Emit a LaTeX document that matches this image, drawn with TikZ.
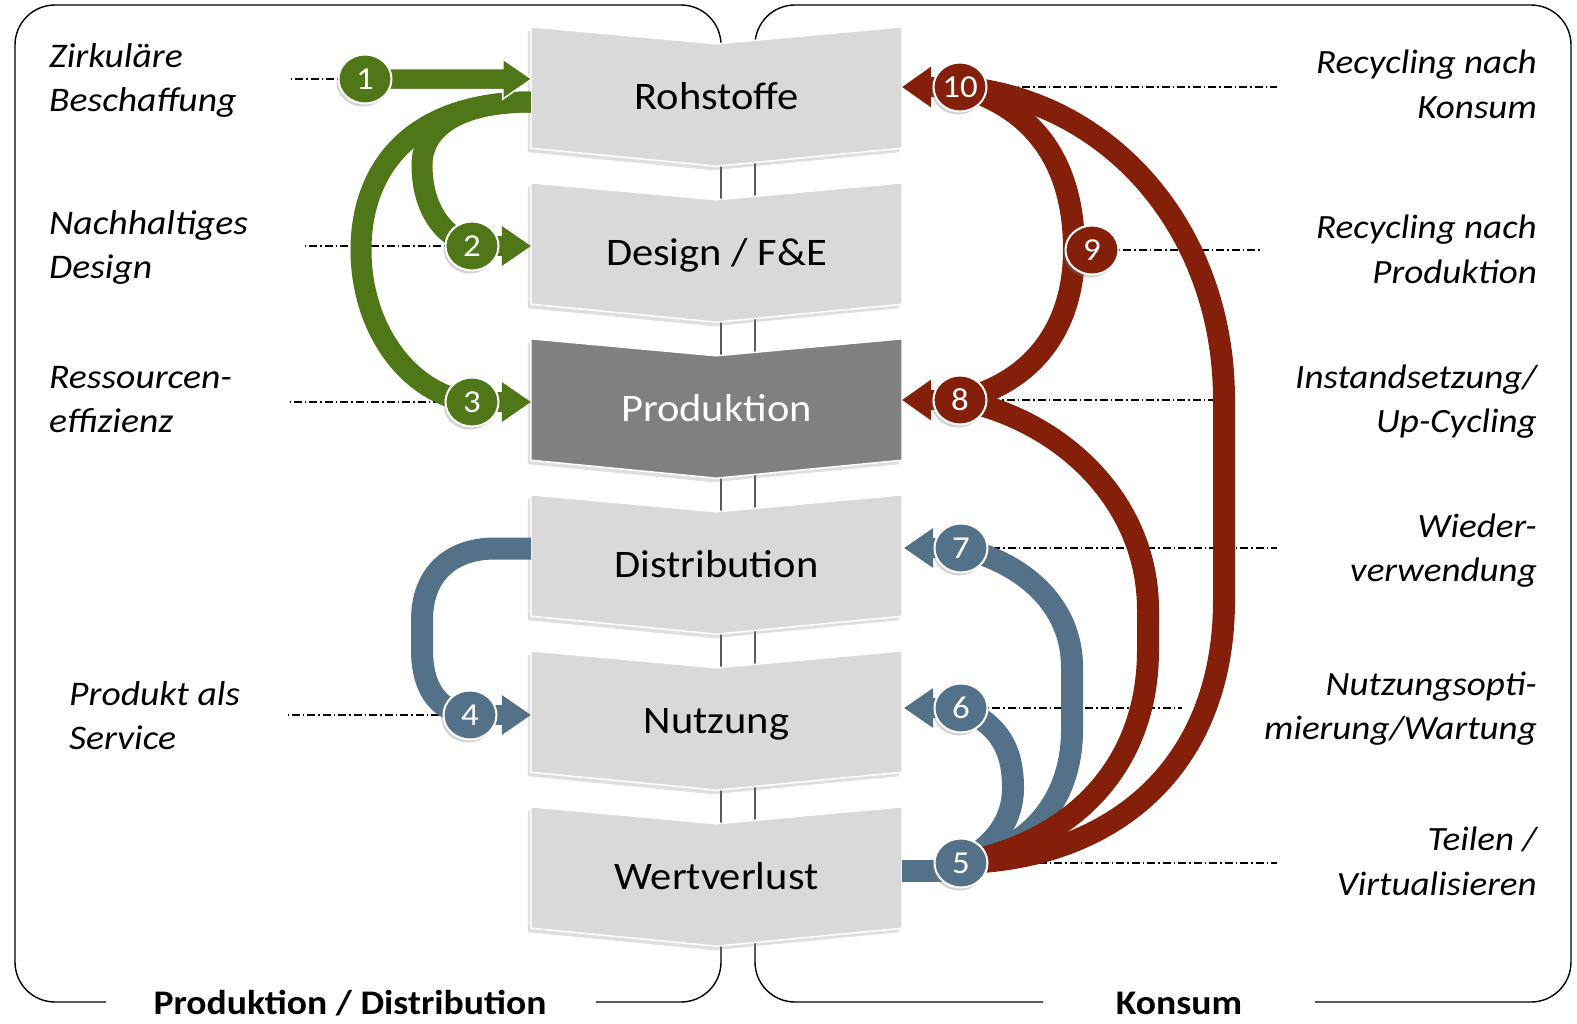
\documentclass[tikz,border=0pt]{standalone}
\usepackage{fontspec}
\setmainfont{Carlito}[FakeStretch=1.09]
\usetikzlibrary{shapes.geometric,shadows,calc}
\definecolor{grn}{RGB}{79,119,23}
\definecolor{rdd}{RGB}{132,31,10}
\definecolor{blu}{RGB}{83,114,137}
\definecolor{chevl}{RGB}{217,217,217}
\definecolor{chevd}{RGB}{128,128,128}
\pgfdeclarelayer{frame}
\pgfdeclarelayer{leader}
\pgfdeclarelayer{chev}
\pgfdeclarelayer{bands}
\pgfsetlayers{frame,leader,chev,bands,main}
\begin{document}
\begin{tikzpicture}[x=1pt,y=-1pt,
  chevtext/.style={minimum width=371pt, minimum height=121pt, inner sep=0pt,
    text height=50pt, text depth=7pt, font=\fontsize{39}{46}\selectfont},
  chevshape/.style={draw=white, line width=1.5pt,
    drop shadow={shadow xshift=-3pt, shadow yshift=-4pt, opacity=0.25}},
  cnum/.style={ellipse, minimum width=53pt, minimum height=49pt, inner sep=0pt,
    draw=white, line width=2pt, text=white, font=\fontsize{32}{32}\selectfont,
    drop shadow={shadow xshift=-2pt, shadow yshift=-3pt, opacity=0.35}},
  framel/.style={draw=black, line width=1.4pt},
  dd/.style={draw=black, line width=1.3pt, dash pattern=on 8pt off 3pt on 1.5pt off 3pt},
  gband/.style={draw=grn, line width=21pt},
  bband/.style={draw=blu, line width=22pt},
  rband/.style={draw=rdd, line width=22pt},
  labl/.style={inner sep=0pt, anchor=base west, font=\fontsize{34.5}{44}\selectfont\itshape},
  labr/.style={inner sep=0pt, anchor=base east, font=\fontsize{34}{44}\selectfont\itshape},
  ttl/.style={inner sep=0pt, anchor=base, font=\fontsize{34.5}{40}\selectfont\bfseries}
]
\useasboundingbox (0,0) rectangle (1577,1023);

% ---------- chevron nodes (text) ----------
\node[chevtext] (roh) at (716.5,87.5) {Rohstoffe};
\node[chevtext] (des) at (716.5,243.5) {Design / F\&E};
\node[chevtext, text=white] (pro) at (716.5,399.5) {Produktion};
\node[chevtext] (dis) at (716.5,555.5) {Distribution};
\node[chevtext] (nut) at (716.5,711.5) {Nutzung};
\node[chevtext] (wer) at (716.5,867.5) {Wertverlust};

% ---------- numbered circles ----------
\node[cnum, fill=grn] (c1) at (365,79) {1};
\node[cnum, fill=grn] (c2) at (472,246) {2};
\node[cnum, fill=grn] (c3) at (472,402) {3};
\node[cnum, fill=blu] (c4) at (470,715) {4};
\node[cnum, fill=blu] (c5) at (961,863) {5};
\node[cnum, fill=blu] (c6) at (961,708) {6};
\node[cnum, fill=blu] (c7) at (961,548) {7};
\node[cnum, fill=rdd] (c8) at (960,400) {8};
\node[cnum, fill=rdd] (c9) at (1092,250) {9};
\node[cnum, fill=rdd] (c10) at (960,87) {10};

% ---------- side labels ----------
\node[labl] (l1a) at (49,67) {Zirkuläre};
\node[labl] (l1b) at (49,111) {Beschaffung};
\node[labl] (l2a) at (49,234) {Nachhaltiges};
\node[labl] (l2b) at (49,278) {Design};
\node[labl] (l3a) at (49,388) {Ressourcen-};
\node[labl] (l3b) at (49,432) {effizienz};
\node[labl] (l4a) at (69,705) {Produkt als};
\node[labl] (l4b) at (69,749) {Service};

\node[labr] (r10a) at (1537,73) {Recycling nach};
\node[labr] (r10b) at (1537,118) {Konsum};
\node[labr] (r9a) at (1537,238) {Recycling nach};
\node[labr] (r9b) at (1537,283) {Produktion};
\node[labr] (r8a) at (1537,388) {Instandsetzung/};
\node[labr] (r8b) at (1537,432) {Up-Cycling};
\node[labr] (r7a) at (1537,537) {Wieder-};
\node[labr] (r7b) at (1537,581) {verwendung};
\node[labr] (r6a) at (1537,695) {Nutzungsopti-};
\node[labr] (r6b) at (1537,739) {mierung/Wartung};
\node[labr] (r5a) at (1537,850) {Teilen /};
\node[labr] (r5b) at (1537,895) {Virtualisieren};

\node[ttl] (tl) at (350,1014) {Produktion / Distribution};
\node[ttl] (tr) at (1179,1014) {Konsum};

% ---------- frames ----------
\begin{pgfonlayer}{frame}
\draw[framel, rounded corners=40pt] (106,1002) -- (15,1002) -- (15,5) -- (721,5) -- (721,1002) -- (596,1002);
\draw[framel, rounded corners=40pt] (1043,1002) -- (755,1002) -- (755,5) -- (1571,5) -- (1571,1002) -- (1315,1002);
\end{pgfonlayer}

% ---------- leader lines ----------
\coordinate (d1) at (290,0);
\coordinate (d2) at (302,0);
\coordinate (d3) at (290,0);
\coordinate (d4) at (288,0);
\coordinate (d5) at (1277,0);
\coordinate (d6) at (1182,0);
\coordinate (d7) at (1277,0);
\coordinate (d8) at (1217,0);
\coordinate (d9) at (1262,0);
\coordinate (d10) at (1277,0);
\begin{pgfonlayer}{leader}
\foreach \i in {1,...,10}
  \draw[dd] (c\i.center) -- (c\i.center -| d\i);
\end{pgfonlayer}

% ---------- chevron shapes ----------
\begin{pgfonlayer}{chev}
\foreach \n/\c in {roh/chevl, des/chevl, pro/chevd, dis/chevl, nut/chevl, wer/chevl}
  \filldraw[fill=\c, chevshape] (\n.north west) -- ([yshift=-17pt]\n.north) -- (\n.north east)
    -- (\n.south east) -- ([yshift=-18pt]\n.south) -- (\n.south west) -- cycle;
\end{pgfonlayer}

% ---------- bands and arrowheads ----------
\begin{pgfonlayer}{bands}
% blue
\draw[bband] ($(dis.west)+(0,-7)$) -- (495,548.5) .. controls (450,548.5) and (422,575) .. (422,620)
  -- (422,650) .. controls (422,690) and (440,712) .. (c4.center);
\draw[bband] ($(c5.center -| wer.east)+(0,8)$) -- ($(c5.center)+(0,8)$);
\draw[bband] (c5.center) .. controls (1030,850) and (1072,800) .. (1072,730) -- (1072,667)
  .. controls (1072,610) and (1030,565) .. (c7.center);
\draw[bband] (c5.center) .. controls (995,845) and (1013,820) .. (1013,788)
  .. controls (1013,750) and (1000,725) .. (c6.center);
\draw[line width=20pt, blu] (c4.center) -- ($(c4 -| nut.west)+(-27,0)$);
\fill[blu] (c4 -| nut.west) -- ++(-29,-20) -- ++(0,40) -- cycle;
\draw[line width=20pt, blu] (c7.center) -- ($(c7 -| dis.east)+(27,0)$);
\fill[blu] ($(c7 -| dis.east)+(2,0)$) -- ++(29,-20) -- ++(0,40) -- cycle;
\draw[line width=20pt, blu] (c6.center) -- ($(c6 -| nut.east)+(27,0)$);
\fill[blu] ($(c6 -| nut.east)+(2,0)$) -- ++(29,-20) -- ++(0,40) -- cycle;
% red
\draw[rband] (c5.center) .. controls (1110,860) and (1224,770) .. (1224,600) -- (1224,400)
  .. controls (1224,230) and (1110,100) .. (c10.center);
\draw[rband] (c5.center) .. controls (1080,840) and (1148,760) .. (1148,650) -- (1148,610)
  .. controls (1148,500) and (1060,420) .. (c8.center);
\draw[rband] (c8.center) .. controls (1040,380) and (1074,320) .. (1074,250)
  .. controls (1074,170) and (1040,110) .. (c10.center);
\draw[line width=20pt, rdd] (c10.center) -- ($(c10 -| roh.east)+(27,0)$);
\fill[rdd] (c10 -| roh.east) -- ++(29,-20.5) -- ++(0,41) -- cycle;
\draw[line width=20pt, rdd] (c8.center) -- ($(c8 -| pro.east)+(27,0)$);
\fill[rdd] (c8 -| pro.east) -- ++(29,-20.5) -- ++(0,41) -- cycle;
% green
\draw[gband] ($(roh.west)+(0,14.5)$) .. controls (455,102) and (422,130) .. (422,165)
  .. controls (422,205) and (440,235) .. (c2.center);
\draw[gband] ($(roh.west)+(0,14.5)$) .. controls (410,102) and (361,170) .. (361,250)
  .. controls (361,330) and (410,395) .. (c3.center);
\draw[line width=20pt, grn] (c2.center) -- ($(c2 -| des.west)+(-27,0)$);
\fill[grn] (c2 -| des.west) -- ++(-29,-20) -- ++(0,40) -- cycle;
\draw[line width=20pt, grn] (c3.center) -- ($(c3 -| pro.west)+(-27,0)$);
\fill[grn] (c3 -| pro.west) -- ++(-29,-20) -- ++(0,40) -- cycle;
\coordinate (t1) at ($(c1 -| roh.west)+(1,0)$);
\filldraw[fill=grn, draw=white, line width=1.5pt] (c1.center) -- ++(0,-10.5)
  -- ($(t1)+(-29,-10.5)$) -- ++(0,-9.5) -- (t1) -- ++(-29,20) -- ++(0,-9.5)
  -- ($(c1.center)+(0,10.5)$) -- cycle;
\end{pgfonlayer}
\end{tikzpicture}
\end{document}
